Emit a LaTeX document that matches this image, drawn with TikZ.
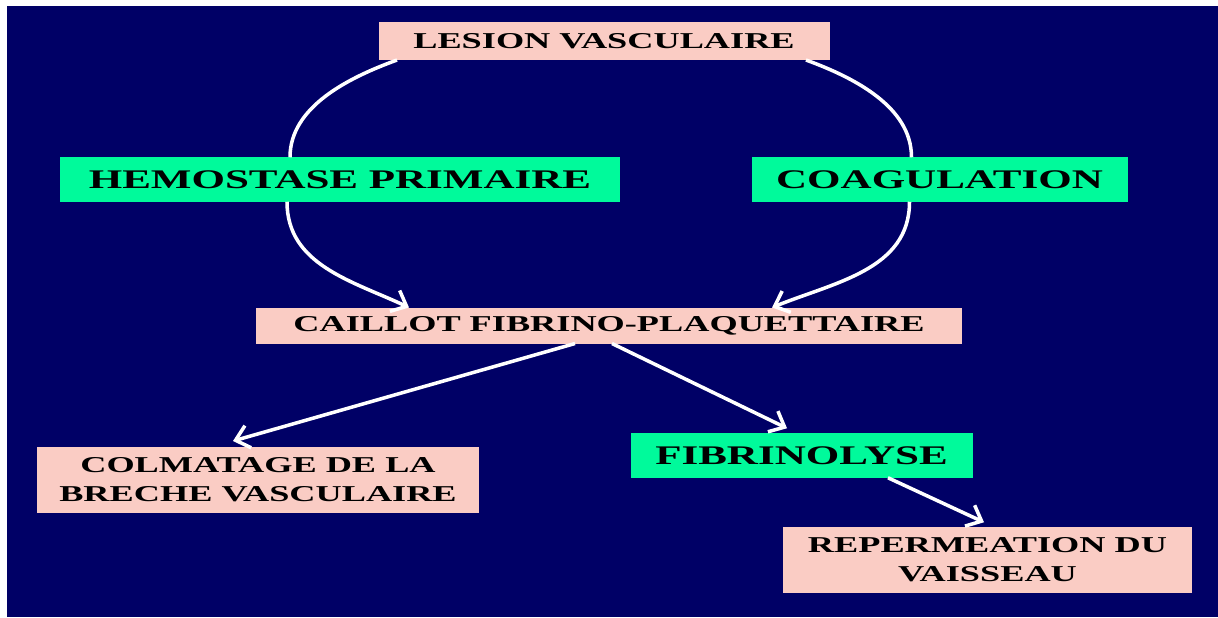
\documentclass[tikz,border=0pt]{standalone}
\usepackage{fontspec}
\setmainfont{Liberation Serif}[FakeStretch=1.6]
\usepackage{tikz}
\usetikzlibrary{arrows.meta}
\definecolor{slidenavy}{RGB}{0,0,102}
\definecolor{slidepink}{RGB}{250,204,196}
\definecolor{slidegreen}{RGB}{0,250,155}
\tikzset{
% white open arrow tip
>={Straight Barb[length=0.26cm, width=0.46cm]},
pinkbox/.style={rectangle, fill=slidepink, align=center,
  font=\bfseries\fontsize{12.9}{16.5}\selectfont},
greenbox/.style={rectangle, fill=slidegreen, align=center,
  font=\bfseries\fontsize{15.3}{18}\selectfont},
flow/.style={draw=white, line width=2pt}
}

\begin{document}
\begin{tikzpicture}[inner sep=0, outer sep=0]
  \useasboundingbox (0,0) rectangle (24.36,-12.34);
  \fill[white] (0,0) rectangle (24.36,-12.34);
  \fill[slidenavy] (0.14,-0.12) rectangle (24.36,-12.34);

  \node[pinkbox,
    minimum width = 9.02cm,
    minimum height = 0.76cm] (lesion) at (12.08, -0.82) {LESION VASCULAIRE};
  \node[greenbox,
    minimum width = 11.2cm,
    minimum height = 0.89cm] (hemo) at (6.80, -3.59) {HEMOSTASE PRIMAIRE};
  \node[greenbox,
    minimum width = 7.52cm,
    minimum height = 0.89cm] (coag) at (18.79, -3.59) {COAGULATION};
  \node[pinkbox,
    minimum width = 14.11cm,
    minimum height = 0.72cm] (caillot) at (12.18, -6.51) {CAILLOT FIBRINO-PLAQUETTAIRE};
  \node[pinkbox,
    minimum width = 8.84cm,
    minimum height = 1.32cm] (colmatage) at (5.16, -9.6) {COLMATAGE DE LA\\BRECHE VASCULAIRE};
  \node[greenbox,
    minimum width = 6.84cm,
    minimum height = 0.89cm] (fibrino) at (16.03, -9.11) {FIBRINOLYSE};
  \node[pinkbox,
    minimum width = 8.17cm,
    minimum height = 1.31cm] (reperm) at (19.75, -11.2) {REPERMEATION DU\\VAISSEAU};

  % curved branches
  \draw[flow] ([xshift=-4.14cm]lesion.south) to[out=200, in=90, looseness=0.9] ([xshift=-1cm]hemo.north);
  \draw[flow, ->] ([xshift=-1.06cm]hemo.south) to[out=-90, in=155] ([xshift=-4cm]caillot.north);
  \draw[flow] ([xshift=4.04cm]lesion.south) to[out=-20, in=90, looseness=0.9] ([xshift=-0.56cm]coag.north);
  \draw[flow, ->] ([xshift=-0.6cm]coag.south) to[out=-90, in=22] ([xshift=3.26cm]caillot.north);

  % straight arrows
  \draw[flow, ->] ([xshift=-0.68cm]caillot.south) -- ([xshift=-0.5cm, yshift=0.12cm]colmatage.north);
  \draw[flow, ->] ([xshift=0.06cm]caillot.south) -- ([xshift=-0.29cm, yshift=0.1cm]fibrino.north);
  \draw[flow, ->] ([xshift=1.73cm]fibrino.south) -- ([xshift=-0.07cm, yshift=0.1cm]reperm.north);
\end{tikzpicture}
\end{document}
